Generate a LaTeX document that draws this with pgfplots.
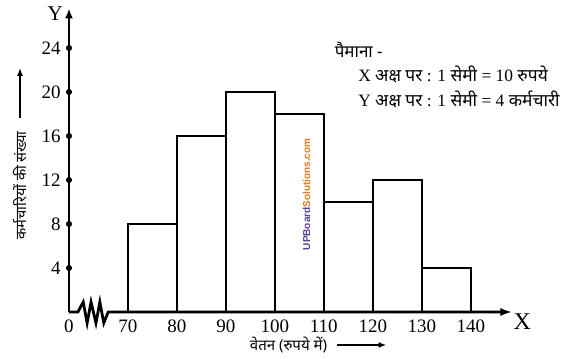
\documentclass[border=0pt]{standalone}
\usepackage{pgfplots}
\pgfplotsset{compat=1.18}
\usepackage{fontspec}
\setmainfont{Liberation Serif}
\setsansfont{Liberation Sans}
\newfontfamily\hindi[Script=Devanagari]{Noto Sans}
\usetikzlibrary{arrows.meta}
\definecolor{wmpurple}{HTML}{5B3C9E}
\definecolor{wmorange}{HTML}{E07B1A}
\begin{document}
\begin{tikzpicture}
\path[use as bounding box] (-34.5pt,-23.5pt) rectangle (255.5pt,156pt);
\begin{axis}[
  at={(0,0)}, anchor=south west,
  x=2.45pt, y=5.5pt,
  xmin=58, xmax=150, ymin=0, ymax=27.5,
  axis lines=left,
  axis line style={draw=none},
  tick style={draw=none},
  clip=false,
  xtick={58,70,80,90,100,110,120,130,140},
  xticklabels={0,70,80,90,100,110,120,130,140},
  ytick={4,8,12,16,20,24},
  /pgf/number format/assume math mode=true,
  ticklabel style={font=\fontsize{9.5}{10}\selectfont},
  xticklabel style={yshift=1.5pt},
  yticklabel style={xshift=1.5pt},
]
\addplot[ybar interval, fill=white, draw=black, line width=1pt]
  coordinates {(70,8) (80,16) (90,20) (100,18) (110,10) (120,12) (130,4) (140,4)};
% axes
\draw[line width=1.4pt, -{Latex[length=5pt,width=4pt]}] (axis cs:58,0) -- (axis cs:58,27.6);
\draw[line width=1.4pt, -{Latex[length=6pt,width=4pt]}] (axis cs:58,0) -- (axis cs:59.8,0)
  -- (axis cs:60.9,0.9) -- (axis cs:61.7,-1.0) -- (axis cs:62.5,0.9) -- (axis cs:63.5,-1.0)
  -- (axis cs:64.3,0.9) -- (axis cs:65.1,-1.0) -- (axis cs:66,0) -- (axis cs:148.5,0);
\addplot[only marks, mark=*, mark size=1.3pt, black]
  coordinates {(58,4) (58,8) (58,12) (58,16) (58,20) (58,24)};
% axis letters
\node[font=\fontsize{12}{13}\selectfont] at (axis cs:150.5,-0.9) {X};
\node[font=\fontsize{10.5}{12}\selectfont] at (axis cs:55.2,27.1) {Y};
% axis titles
\node[font=\hindi\fontsize{7.5}{8}\selectfont] at (axis cs:102.8,-3.0) {वेतन (रुपये में)};
\draw[line width=0.8pt, -{Latex[length=4pt,width=3pt]}] (axis cs:112.6,-3.0) -- (axis cs:122.8,-3.0);
\node[font=\hindi\fontsize{7.3}{8}\selectfont, rotate=90] at (axis cs:48,11.5) {कर्मचारियों की संख्या};
\draw[line width=0.8pt, -{Latex[length=4pt,width=3pt]}] (axis cs:48,17.6) -- (axis cs:48,22.2);
% scale text
\node[anchor=west, font=\hindi\fontsize{8.5}{9}\selectfont] at (axis cs:110.8,23.8) {पैमाना -};
\node[anchor=west, font=\fontsize{8.7}{10}\selectfont] at (axis cs:115.6,21.6) {X {\hindi अक्ष पर} : 1 {\hindi सेमी} = 10 {\hindi रुपये}};
\node[anchor=west, font=\fontsize{8.7}{10}\selectfont] at (axis cs:115.6,19.3) {Y {\hindi अक्ष पर} : 1 {\hindi सेमी} = 4 {\hindi कर्मचारी}};
% watermark
\node[rotate=90, font=\sffamily\bfseries\fontsize{5}{6}\selectfont, inner sep=0pt] at (axis cs:106.5,10.7)
  {\textcolor{wmpurple}{UPBoard}\textcolor{wmorange}{Solutions.com}};
\end{axis}
\end{tikzpicture}
\end{document}
